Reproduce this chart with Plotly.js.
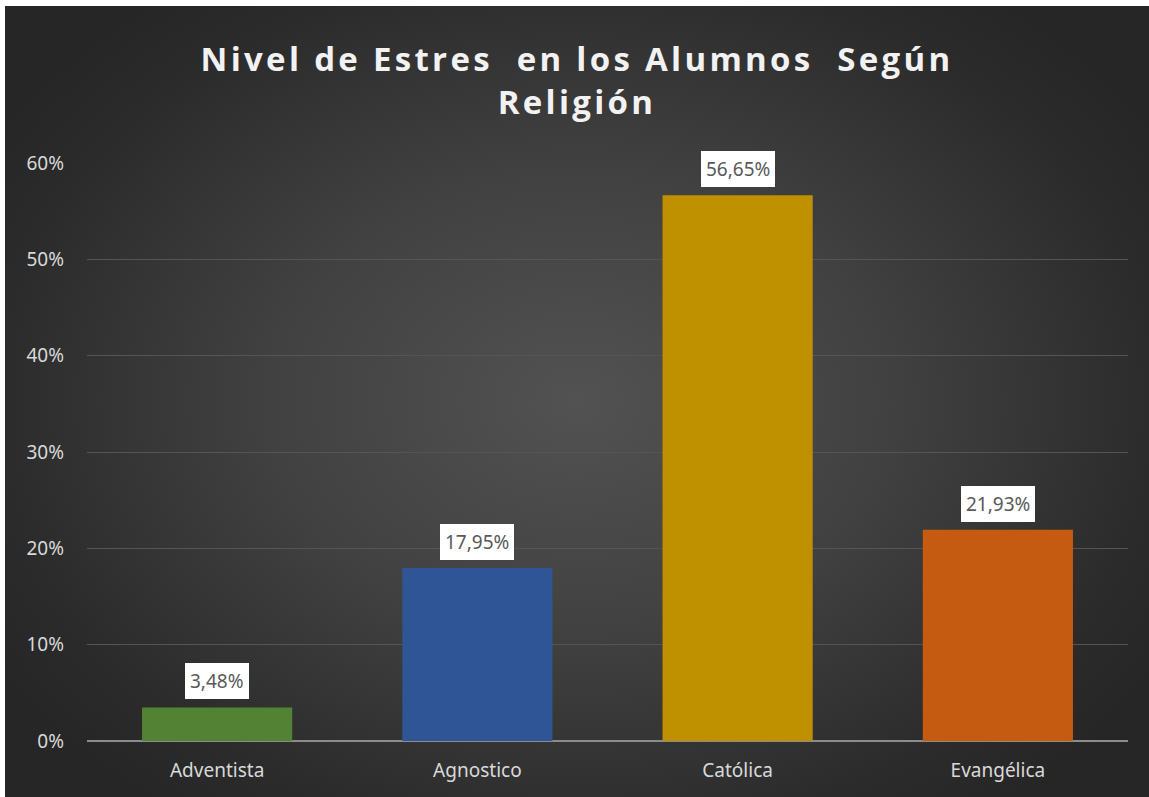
<!DOCTYPE html>
<html>
<head>
<meta charset="utf-8">
<script src="https://cdn.plot.ly/plotly-3.0.1.min.js"></script>
<style>
  html, body { margin: 0; padding: 0; background: #ffffff; width: 1149px; height: 797px; overflow: hidden; }
  #chart {
    position: absolute; left: 5px; top: 6px; width: 1144px; height: 791px;
    background: radial-gradient(ellipse 60% 65% at 50% 50%, #525252 0%, #414141 45%, #2b2b2b 85%, #262626 100%);
  }
  #chart .gtitle { letter-spacing: 3.3px; }
</style>
</head>
<body>
<div id="chart"></div>
<script>
const categories = ["Adventista", "Agnostico", "Católica", "Evangélica"];
const values = [3.48, 17.95, 56.65, 21.93];
const barColors = ["#548235", "#2f5597", "#bf9000", "#c55a11"];
const yTickVals = [0, 10, 20, 30, 40, 50, 60];
const yTickText = ["0%", "10%", "20%", "30%", "40%", "50%", "60%"];
const titleLine1 = "Nivel de Estres  en los Alumnos  Según";
const titleLine2 = "Religión";

const labelText = values.map(v => v.toFixed(2).replace(".", ",") + "%");

const trace = {
  type: "bar",
  x: categories,
  y: values,
  width: 0.577,
  marker: { color: barColors, line: { width: 0 } },
  hoverinfo: "skip"
};

const annotations = categories.map((c, i) => ({
  x: c, y: values[i], xref: "x", yref: "y",
  text: labelText[i], showarrow: false,
  yanchor: "bottom", yshift: 8,
  bgcolor: "#ffffff", borderpad: 5, borderwidth: 0,
  font: { family: "Noto Sans, Open Sans, sans-serif", size: 19, color: "#595959" }
}));

const titleFont = { family: "Open Sans, sans-serif", size: 33, color: "#f2f2f2", weight: "bold" };

const layout = {
  width: 1144, height: 791,
  paper_bgcolor: "rgba(0,0,0,0)",
  plot_bgcolor: "rgba(0,0,0,0)",
  margin: { l: 82, r: 21, t: 157, b: 56 },
  title: {
    text: titleLine1 + "<br>" + titleLine2,
    font: titleFont,
    x: 0.5, xanchor: "center", xref: "container",
    y: 0.918, yanchor: "middle", yref: "container"
  },
  showlegend: false,
  xaxis: {
    type: "category",
    range: [-0.5, 3.5],
    showgrid: false, zeroline: false,
    showline: false,
    ticks: "",
    tickfont: { family: "Noto Sans, Open Sans, sans-serif", size: 19, color: "#d9d9d9" },
    ticklabelstandoff: 16
  },
  yaxis: {
    range: [0, 60],
    tickvals: yTickVals, ticktext: yTickText,
    showgrid: true, gridcolor: "#555555", gridwidth: 1,
    zeroline: true, zerolinecolor: "#8c8c8c", zerolinewidth: 2,
    showline: false, ticks: "",
    tickfont: { family: "Noto Sans, Open Sans, sans-serif", size: 19, color: "#d9d9d9" },
    ticklabelstandoff: 22
  },
  annotations: annotations
};

Plotly.newPlot("chart", [trace], layout, { displayModeBar: false, staticPlot: true });
</script>
</body>
</html>
